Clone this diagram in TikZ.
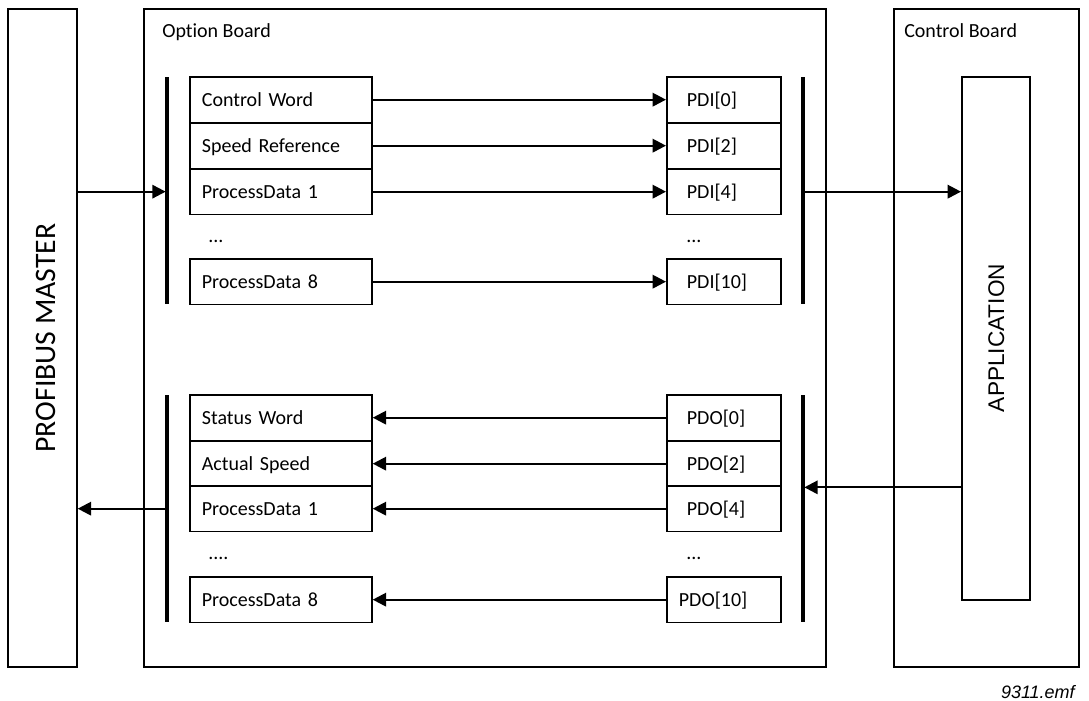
\documentclass[tikz,border=0pt]{standalone}
\usepackage{fontspec}
\setmainfont{Carlito}[Ligatures={NoCommon,NoContextual}]
\newfontfamily\arialf{Liberation Sans}
\usetikzlibrary{arrows.meta}
\begin{document}
\begin{tikzpicture}[x=0.75pt,y=-0.75pt,
  boxline/.style={draw, line width=1.3pt},
  lbox/.style={boxline, anchor=north west, minimum width=136.5pt, minimum height=34.2pt,
    text width=118.5pt, inner xsep=9pt, inner ysep=0pt, align=left,
    font=\fontsize{15}{18}\selectfont, text height=9.7pt, text depth=0pt},
  rbox/.style={boxline, anchor=north west, minimum width=85.5pt, minimum height=34.2pt,
    text width=55.5pt, inner xsep=15pt, inner ysep=0pt, align=left,
    font=\fontsize{15}{18}\selectfont, text height=9.7pt, text depth=0pt},
  board/.style={boxline, anchor=north west, minimum height=493.5pt, inner sep=0pt},
  lbl/.style={anchor=base west, inner sep=0pt, font=\fontsize{15}{18}\selectfont},
  bus/.style={line width=2.6pt},
  arr/.style={line width=1.7pt, -{Triangle[length=10pt,width=10pt]}}
]
\useasboundingbox (0,0) rectangle (1089,700);

% boards
\node[board, minimum width=51.75pt] (master) at (7,8) {};
\node[board, minimum width=511.5pt] (option) at (143,8) {};
\node[board, minimum width=138.75pt] (control) at (893,8) {};
\node[boxline, anchor=north west, minimum width=51pt, minimum height=392.25pt, inner sep=0pt] (app) at (961,76) {};

\node[rotate=90, inner sep=0pt, text height=14.2pt, text depth=0pt, font=\fontsize{22.3}{26}\selectfont] (mastertxt) at (46,338) {PROFIBUS MASTER};
\node[rotate=90, inner sep=0pt, text height=12.2pt, text depth=0pt, font=\arialf\fontsize{17}{20}\selectfont] (apptxt) at (996,338) {APPLICATION};

\node[lbl] (optlbl) at (162,37) {Opt\kern0pt ion Board};
\node[lbl] (ctllbl) at (904,37) {Control Board};

% upper left boxes
\node[lbox] (cw) at (189,76) {Control Word};
\node[lbox] (sr) at (189,122) {Speed Reference};
\node[lbox] (pa1) at (189,168) {ProcessData 1};
\node[lbl] (ldots1) at (208,242) {...};
\node[lbox] (pa8) at (189,258) {ProcessData 8};

% upper right boxes
\node[rbox] (pdi0) at (666,76) {PDI[0]};
\node[rbox] (pdi2) at (666,122) {PDI[2]};
\node[rbox] (pdi4) at (666,168) {PDI[4]};
\node[lbl] (rdots1) at (686,242) {...};
\node[rbox] (pdi10) at (666,258) {PDI[10]};

% lower left boxes
\node[lbox] (stw) at (189,394) {Status Word};
\node[lbox] (asp) at (189,440) {Actual Speed};
\node[lbox] (pb1) at (189,485) {ProcessData 1};
\node[lbl] (ldots2) at (208,559) {....};
\node[lbox] (pb8) at (189,576) {ProcessData 8};

% lower right boxes
\node[rbox] (pdo0) at (666,394) {PDO[0]};
\node[rbox] (pdo2) at (666,440) {PDO[2]};
\node[rbox] (pdo4) at (666,485) {PDO[4]};
\node[lbl] (rdots2) at (686,559) {...};
\node[rbox, inner xsep=9pt, text width=67.5pt] (pdo10) at (666,576) {PDO[10]};

% bus bars
\coordinate (lb1t) at (167,77); \coordinate (lb1b) at (167,304);
\coordinate (rb1t) at (803,77); \coordinate (rb1b) at (803,304);
\coordinate (lb2t) at (167,395); \coordinate (lb2b) at (167,622);
\coordinate (rb2t) at (803,395); \coordinate (rb2b) at (803,622);
\draw[bus] (lb1t) -- (lb1b);
\draw[bus] (rb1t) -- (rb1b);
\draw[bus] (lb2t) -- (lb2b);
\draw[bus] (rb2t) -- (rb2b);

% upper arrows
\draw[arr] (cw.east) -- (pdi0.west);
\draw[arr] (sr.east) -- (pdi2.west);
\draw[arr] (pa1.east) -- (pdi4.west);
\draw[arr] (pa8.east) -- (pdi10.west);
\draw[arr] (master.east |- pa1.west) -- ([xshift=-1pt]lb1t |- pa1.west);
\draw[arr] (rb1t |- pdi4.east) -- (app.west |- pdi4.east);

% lower arrows
\draw[arr] (pdo0.west) -- (stw.east);
\draw[arr] (pdo2.west) -- (asp.east);
\draw[arr] (pdo4.west) -- (pb1.east);
\draw[arr] (pdo10.west) -- (pb8.east);
\draw[arr] (app.west |- asp.south) -- ([xshift=1pt]rb2t |- asp.south);
\draw[arr] (lb2t |- pb1.west) -- (master.east |- pb1.west);

\node[anchor=base east, inner sep=0pt, font=\arialf\itshape\fontsize{13.5}{16}\selectfont] (fname) at (1075,698) {9311.emf};
\end{tikzpicture}
\end{document}
